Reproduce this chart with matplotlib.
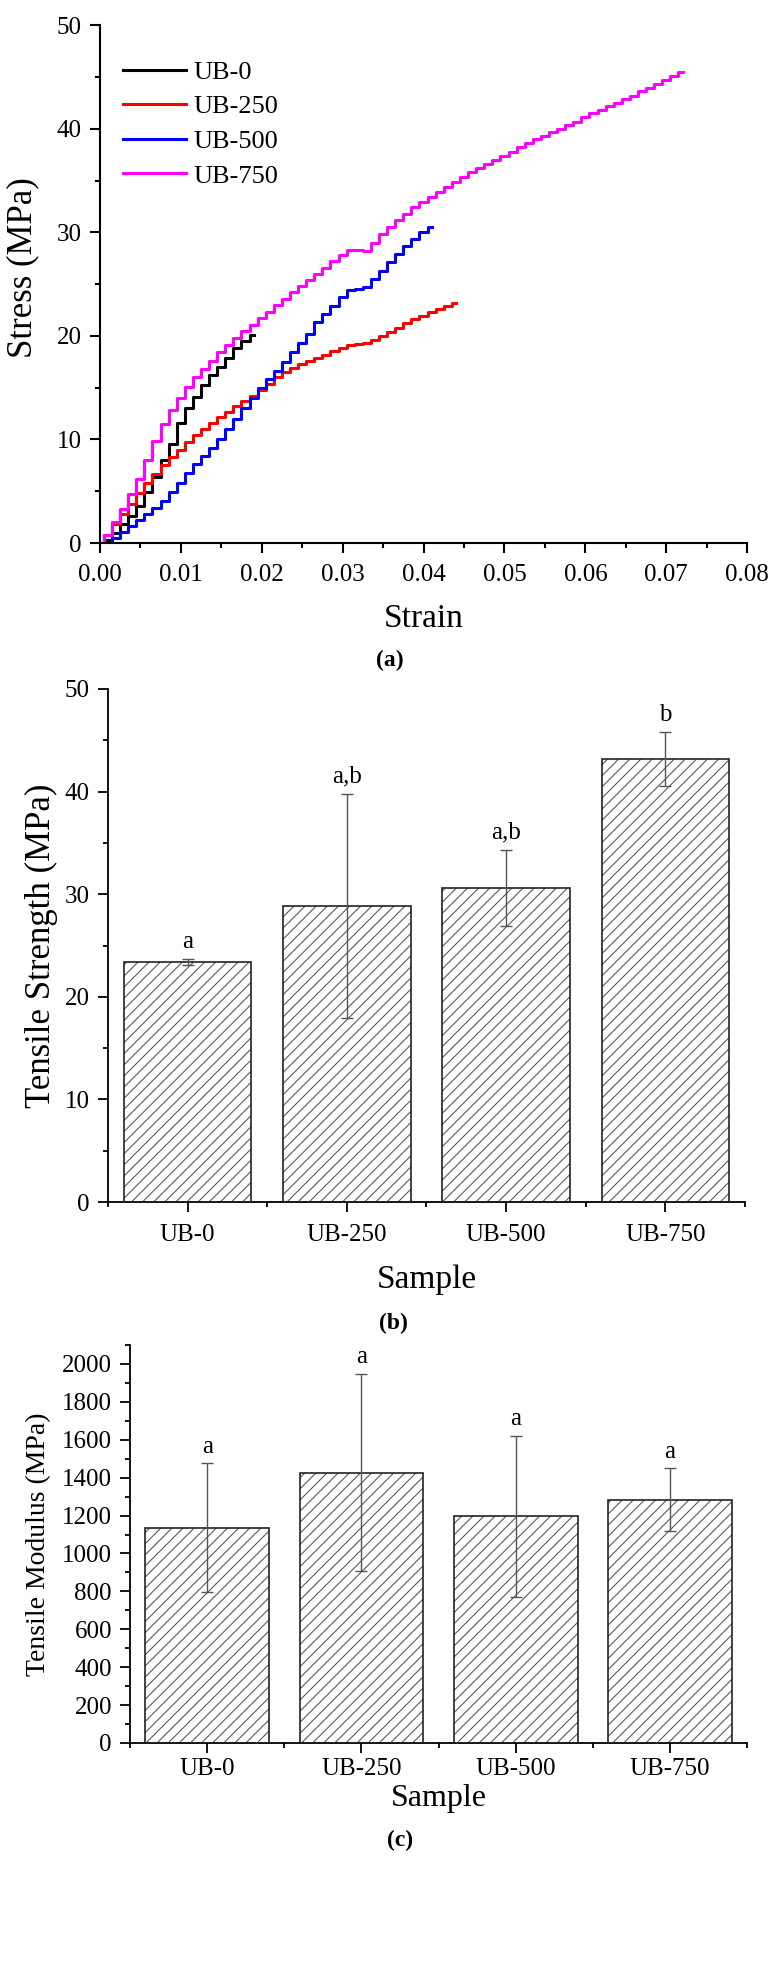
import matplotlib.pyplot as plt
from matplotlib.ticker import MultipleLocator, FixedLocator

plt.rcParams['font.family'] = ['Liberation Serif', 'DejaVu Serif']
plt.rcParams['hatch.linewidth'] = 0.8

# (a) stress-strain curves, sampled every 0.001 strain
strain = [0.000, 0.001, 0.002, 0.003, 0.004, 0.005, 0.006, 0.007, 0.008, 0.009,
          0.010, 0.011, 0.012, 0.013, 0.014, 0.015, 0.016, 0.017, 0.018, 0.019,
          0.020, 0.021, 0.022, 0.023, 0.024, 0.025, 0.026, 0.027, 0.028, 0.029,
          0.030, 0.031, 0.032, 0.033, 0.034, 0.035, 0.036, 0.037, 0.038, 0.039,
          0.040, 0.041, 0.042, 0.043, 0.044, 0.045, 0.046, 0.047, 0.048, 0.049,
          0.050, 0.051, 0.052, 0.053, 0.054, 0.055, 0.056, 0.057, 0.058, 0.059,
          0.060, 0.061, 0.062, 0.063, 0.064, 0.065, 0.066, 0.067, 0.068, 0.069,
          0.070, 0.071, 0.072]

stress_ub0 = [0.0, 0.3, 1.0, 1.8, 2.6, 3.6, 4.9, 6.4, 8.0, 9.6,
              11.6, 13.0, 14.1, 15.3, 16.2, 17.0, 17.9, 18.8, 19.5, 20.1]

stress_ub250 = [0.0, 0.8, 1.8, 2.8, 3.8, 4.8, 5.8, 6.7, 7.5, 8.3,
                9.0, 9.8, 10.4, 11.0, 11.6, 12.2, 12.7, 13.2, 13.7, 14.2,
                14.8, 15.4, 16.0, 16.5, 16.9, 17.3, 17.6, 17.9, 18.2, 18.5,
                18.8, 19.1, 19.2, 19.3, 19.6, 20.0, 20.4, 20.8, 21.2, 21.6,
                21.9, 22.3, 22.6, 22.9, 23.2]

stress_ub500 = [0.0, 0.0, 0.5, 1.1, 1.6, 2.2, 2.8, 3.4, 4.1, 4.9,
                5.8, 6.8, 7.6, 8.4, 9.2, 10.0, 11.0, 12.0, 13.0, 14.0,
                15.0, 15.8, 16.6, 17.5, 18.4, 19.3, 20.2, 21.3, 22.1, 22.9,
                23.8, 24.4, 24.5, 24.7, 25.5, 26.3, 27.1, 27.9, 28.7, 29.4,
                30.0, 30.5]

stress_ub750 = [0.0, 0.8, 2.0, 3.3, 4.7, 6.2, 8.0, 9.9, 11.5, 12.8,
                14.0, 15.1, 16.0, 16.8, 17.6, 18.4, 19.1, 19.8, 20.5, 21.1,
                21.7, 22.3, 23.0, 23.6, 24.2, 24.8, 25.4, 26.0, 26.6, 27.2,
                27.8, 28.3, 28.3, 28.2, 29.0, 29.8, 30.5, 31.2, 31.8, 32.4,
                32.9, 33.4, 33.9, 34.4, 34.9, 35.3, 35.8, 36.2, 36.6, 37.0,
                37.4, 37.8, 38.2, 38.6, 39.0, 39.3, 39.7, 40.0, 40.4, 40.7,
                41.1, 41.5, 41.8, 42.2, 42.5, 42.9, 43.2, 43.6, 43.9, 44.3,
                44.7, 45.1, 45.5]

curve_labels = ['UB-0', 'UB-250', 'UB-500', 'UB-750']
curve_colors = ['black', '#ff0000', '#0000ff', '#ff00ff']

# (b) and (c) bar data
samples = ['UB-0', 'UB-250', 'UB-500', 'UB-750']
strength = [23.4, 28.85, 30.6, 43.15]
strength_err = [0.3, 10.95, 3.7, 2.65]
strength_groups = ['a', 'a,b', 'a,b', 'b']
modulus = [1136, 1426, 1196, 1284]
modulus_err = [339, 520, 424, 165]
modulus_groups = ['a', 'a', 'a', 'a']


def style_axis(ax, width):
    ax.spines['top'].set_visible(False)
    ax.spines['right'].set_visible(False)
    for side in ('left', 'bottom'):
        ax.spines[side].set_linewidth(width)
    ax.tick_params(which='major', direction='out', length=7, width=width)
    ax.tick_params(which='minor', direction='out', length=3.5, width=width)


def bar_panel(ax, values, errors, groups, ylabel, ymax, ymaj, ymin, label_off,
              fs_label):
    pos = list(range(1, len(samples) + 1))
    # hatch drawn in grey, outline drawn separately in dark grey
    ax.bar(pos, values, width=0.8, color='white', edgecolor='#5a5a5a',
           hatch='///', linewidth=0, zorder=2)
    ax.bar(pos, values, width=0.8, color='none', edgecolor='#222222',
           linewidth=1.2, zorder=3)
    ax.errorbar(pos, values, yerr=errors, fmt='none', ecolor='#555555',
                elinewidth=1.0, capsize=4, capthick=1.0, zorder=4)
    for p, v, e, g in zip(pos, values, errors, groups):
        ax.text(p, v + e + label_off, g, ha='center', va='bottom', fontsize=18)
    ax.set_xlim(0.5, 4.5)
    ax.set_ylim(0, ymax)
    ax.set_xticks(pos)
    ax.set_xticklabels(samples, fontsize=18)
    ax.xaxis.set_minor_locator(FixedLocator([0.5, 1.5, 2.5, 3.5, 4.5]))
    ax.yaxis.set_major_locator(MultipleLocator(ymaj))
    ax.yaxis.set_minor_locator(MultipleLocator(ymin))
    ax.tick_params(axis='y', labelsize=18, pad=6)
    style_axis(ax, 1.3)
    ax.set_xlabel('Sample', fontsize=fs_label[0], va='center')
    ax.set_ylabel(ylabel, fontsize=fs_label[1], va='center')


fig = plt.figure(figsize=(7.8, 19.82), dpi=100)

# panel (a)
ax_a = fig.add_axes([0.128, 0.726, 0.83, 0.2613])
curves = [stress_ub0, stress_ub250, stress_ub500, stress_ub750]
for ys, lab, col in zip(curves, curve_labels, curve_colors):
    ax_a.plot(strain[:len(ys)], ys, drawstyle='steps-mid', color=col,
              lw=2.2, label=lab)
ax_a.set_xlim(0, 0.08)
ax_a.set_ylim(0, 50)
ax_a.xaxis.set_major_locator(MultipleLocator(0.01))
ax_a.xaxis.set_minor_locator(MultipleLocator(0.005))
ax_a.yaxis.set_major_locator(MultipleLocator(10))
ax_a.yaxis.set_minor_locator(MultipleLocator(5))
ax_a.xaxis.set_major_formatter(plt.FuncFormatter(lambda v, p: f'{v:.2f}'))
ax_a.tick_params(labelsize=18)
style_axis(ax_a, 1.5)
ax_a.tick_params(axis='x', pad=8)
ax_a.tick_params(axis='y', pad=6)
ax_a.set_xlabel('Strain', fontsize=24, va='center')
ax_a.set_ylabel('Stress (MPa)', fontsize=25, va='center')
ax_a.xaxis.set_label_coords(0.5, -0.147)
ax_a.yaxis.set_label_coords(-0.119, 0.531)
ax_a.legend(loc='upper left', bbox_to_anchor=(0.036, 0.932), frameon=False,
            fontsize=19, handlelength=2.4, handletextpad=0.25,
            labelspacing=0.42, borderpad=0, borderaxespad=0)
fig.text(390 / 780, 1 - 660 / 1982, '(a)', fontsize=17, fontweight='bold',
         ha='center', va='center')

# panel (b)
ax_b = fig.add_axes([0.1385, 0.3935, 0.8165, 0.2589])
bar_panel(ax_b, strength, strength_err, strength_groups,
          'Tensile Strength (MPa)', 50, 10, 5, 0.6, (24, 25))
ax_b.tick_params(axis='x', pad=9)
ax_b.xaxis.set_label_coords(0.5, -0.152)
ax_b.yaxis.set_label_coords(-0.105, 0.5)
fig.text(393 / 780, 1 - 1323 / 1982, '(b)', fontsize=17, fontweight='bold',
         ha='center', va='center')

# panel (c)
ax_c = fig.add_axes([0.1667, 0.1206, 0.7913, 0.2008])
bar_panel(ax_c, modulus, modulus_err, modulus_groups,
          'Tensile Modulus (MPa)', 2100, 200, 100, 30, (23, 20))
ax_c.yaxis.set_major_locator(FixedLocator(list(range(0, 2001, 200))))
ax_c.xaxis.set_label_coords(0.5, -0.14)
ax_c.yaxis.set_label_coords(-0.1475, 0.5)
fig.text(400 / 780, 1 - 1840 / 1982, '(c)', fontsize=17, fontweight='bold',
         ha='center', va='center')

fig.savefig('out.png', dpi=100, facecolor='white')
